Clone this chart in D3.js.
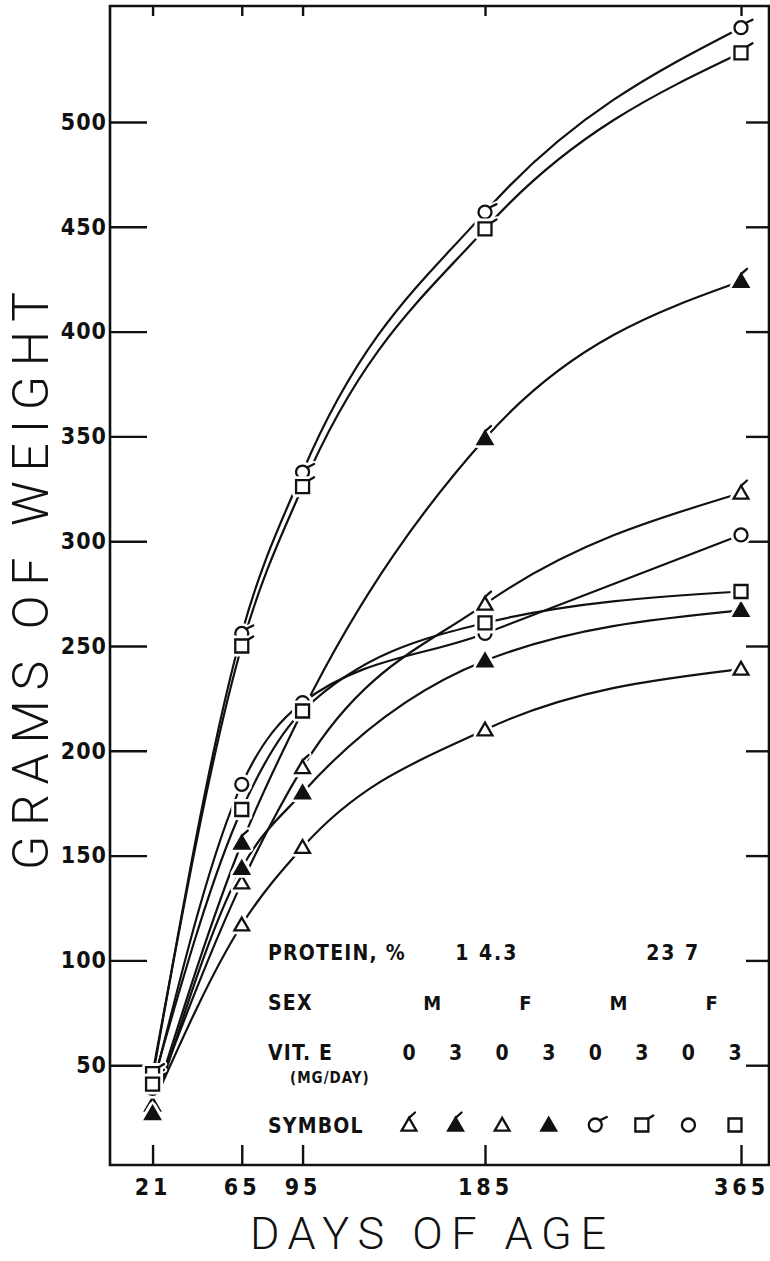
<!DOCTYPE html>
<html>
<head>
<meta charset="utf-8">
<script src="https://cdn.jsdelivr.net/npm/d3@7"></script>
<style>
  html, body { margin: 0; padding: 0; background: #fff; }
  svg { display: block; }
</style>
</head>
<body>
<div id="chart"></div>
<script>
// ---------------- DATA ----------------
const days = [21, 65, 95, 185, 365];
const yTickValues = [50, 100, 150, 200, 250, 300, 350, 400, 450, 500];

// Body weight (g) at each age, one array per group (protein %, sex, vit E)
const p143_M_E0 = [32, 137, 192, 270, 323];
const p143_M_E3 = [30, 156, 219, 349, 424];
const p143_F_E0 = [31, 117, 154, 210, 239];
const p143_F_E3 = [27, 144, 180, 243, 267];
const p237_M_E0 = [44, 256, 333, 457, 545];
const p237_M_E3 = [46, 250, 326, 449, 533];
const p237_F_E0 = [39, 184, 223, 256, 303];
const p237_F_E3 = [41, 172, 219, 261, 276];

const seriesValues = [p143_M_E0, p143_M_E3, p143_F_E0, p143_F_E3,
                      p237_M_E0, p237_M_E3, p237_F_E0, p237_F_E3];
const symbolKinds = ["triFlag", "triFillFlag", "tri", "triFill",
                     "circleFlag", "squareFlag", "circle", "square"];

// Legend table
const proteinLevels = ["1 4.3", "23 7"];
const sexLabels = ["M", "F", "M", "F"];
const vitELabels = ["0", "3", "0", "3", "0", "3", "0", "3"];

// ---------------- LAYOUT ----------------
const W = 770, H = 1261;
const frame = { left: 110, right: 769, top: 6, bottom: 1165 };

const svg = d3.select("#chart").append("svg")
  .attr("width", W).attr("height", H)
  .attr("viewBox", `0 0 ${W} ${H}`);

const x = d3.scaleLinear().domain([0, 185, 365]).range([110, 485, 741]);
const y = d3.scaleLinear().domain([0, 500]).range([1170, 122]);

const ink = "#111";
const tickFont = "'DejaVu Sans Condensed', 'DejaVu Sans', sans-serif";

// ---------------- AXES ----------------
const leftAxis = d3.axisLeft(y).tickValues(yTickValues)
  .tickSizeInner(-37).tickSizeOuter(0).tickPadding(3)
  .tickFormat(d3.format("d"));
const gL = svg.append("g").attr("transform", `translate(${frame.left},0)`).call(leftAxis);

const rightAxis = d3.axisRight(y).tickValues(yTickValues)
  .tickSizeInner(-23).tickSizeOuter(0).tickFormat("");
const gR = svg.append("g").attr("transform", `translate(${frame.right},0)`).call(rightAxis);

const bottomAxis = d3.axisBottom(x).tickValues(days)
  .tickSizeInner(-20).tickSizeOuter(0).tickPadding(14)
  .tickFormat(d3.format("d"));
const gB = svg.append("g").attr("transform", `translate(0,${frame.bottom})`).call(bottomAxis);

const topAxis = d3.axisTop(x).tickValues(days)
  .tickSizeInner(-10).tickSizeOuter(0).tickFormat("");
const gT = svg.append("g").attr("transform", `translate(0,${frame.top})`).call(topAxis);

[gL, gR, gB, gT].forEach(g => {
  g.attr("font-family", tickFont).attr("font-size", 24);
  g.select(".domain").remove();
  g.selectAll(".tick line").attr("stroke", ink).attr("stroke-width", 2.4);
  g.selectAll(".tick text")
    .attr("fill", ink)
    .attr("font-family", tickFont)
    .attr("font-weight", "bold")
    .attr("font-size", 23)
    .attr("letter-spacing", 1);
});
gB.selectAll(".tick text").attr("letter-spacing", 4);

// frame
svg.append("path")
  .attr("d", `M${frame.left},${frame.top}H${frame.right}V${frame.bottom}H${frame.left}Z`)
  .attr("fill", "none").attr("stroke", ink).attr("stroke-width", 2.6);

// axis titles
svg.append("text")
  .attr("transform", `translate(48,581) rotate(-90)`)
  .attr("text-anchor", "middle")
  .attr("font-family", "Roboto, 'DejaVu Sans', sans-serif")
  .attr("font-weight", 300)
  .attr("font-size", 50)
  .attr("textLength", 578).attr("lengthAdjust", "spacing")
  .attr("fill", ink)
  .text("GRAMS OF WEIGHT");

svg.append("text")
  .attr("x", 428).attr("y", 1249)
  .attr("text-anchor", "middle")
  .attr("font-family", "Roboto, 'DejaVu Sans', sans-serif")
  .attr("font-weight", 300)
  .attr("font-size", 45)
  .attr("textLength", 356).attr("lengthAdjust", "spacing")
  .attr("fill", ink)
  .text("DAYS OF AGE");

// ---------------- MARKERS ----------------
function shapePath(kind) {
  if (kind.startsWith("tri")) return "M0,-7.2L7.4,5.6L-7.4,5.6Z";
  if (kind.startsWith("circle")) return "M6.5,0A6.5,6.5 0 1,1 -6.5,0A6.5,6.5 0 1,1 6.5,0Z";
  return "M-6.5,-6.5H6.5V6.5H-6.5Z";
}
function flagPath(kind) {
  if (!kind.endsWith("Flag")) return null;
  if (kind.startsWith("tri")) return "M0,-7.2L6,-12.5";
  if (kind.startsWith("circle")) return "M4.6,-4.6L11.5,-8";
  return "M6.5,-6.5L11.5,-9.5";
}
function drawMarker(g, kind, cx, cy, halo) {
  const m = g.append("g").attr("transform", `translate(${cx},${cy})`);
  const filled = kind.includes("Fill");
  const fp = flagPath(kind);
  if (halo) {
    m.append("path").attr("d", shapePath(kind))
      .attr("fill", "#fff").attr("stroke", "#fff").attr("stroke-width", 8)
      .attr("stroke-linejoin", "round");
    if (fp) m.append("path").attr("d", fp).attr("stroke", "#fff").attr("stroke-width", 6)
      .attr("stroke-linecap", "round");
  }
  m.append("path").attr("d", shapePath(kind))
    .attr("fill", filled ? ink : "#fff")
    .attr("stroke", ink).attr("stroke-width", 2.3)
    .attr("stroke-linejoin", "miter");
  if (fp) m.append("path").attr("d", fp).attr("stroke", ink).attr("stroke-width", 2.3)
    .attr("stroke-linecap", "round").attr("fill", "none");
}

// ---------------- CURVES ----------------
const line = d3.line()
  .x((d, i) => x(days[i]))
  .y(d => y(d))
  .curve(d3.curveMonotoneX);

const gLines = svg.append("g");
seriesValues.forEach(vals => {
  gLines.append("path")
    .attr("d", line(vals))
    .attr("fill", "none")
    .attr("stroke", ink)
    .attr("stroke-width", 2.2);
});

const gMarks = svg.append("g");
seriesValues.forEach((vals, s) => {
  vals.forEach((v, i) => drawMarker(gMarks, symbolKinds[s], x(days[i]), y(v), true));
});

// ---------------- LEGEND TABLE ----------------
const legendFont = "'DejaVu Sans Condensed', 'DejaVu Sans', sans-serif";
const col = d3.scalePoint().domain(d3.range(symbolKinds.length)).range([409, 735]);
const lg = svg.append("g")
  .attr("font-family", legendFont)
  .attr("font-weight", "bold")
  .attr("fill", ink);

function rowLabel(txt, yy) {
  lg.append("text").attr("x", 268).attr("y", yy)
    .attr("font-size", 21).attr("letter-spacing", 1.2).text(txt);
}
rowLabel("PROTEIN, %", 960);
rowLabel("SEX", 1010);
rowLabel("VIT. E", 1060);
lg.append("text").attr("x", 290).attr("y", 1083).attr("font-size", 15)
  .attr("letter-spacing", 1).text("(MG/DAY)");
rowLabel("SYMBOL", 1133);

proteinLevels.forEach((p, i) => {
  const cx = (col(i * 4) + col(i * 4 + 3)) / 2 + 8;
  lg.append("text").attr("x", cx).attr("y", 960).attr("text-anchor", "middle")
    .attr("font-size", 21).attr("letter-spacing", 2).text(p);
});
sexLabels.forEach((s, i) => {
  const cx = (col(i * 2) + col(i * 2 + 1)) / 2;
  lg.append("text").attr("x", cx).attr("y", 1010).attr("text-anchor", "middle")
    .attr("font-size", 20).text(s);
});
vitELabels.forEach((v, i) => {
  lg.append("text").attr("x", col(i)).attr("y", 1060).attr("text-anchor", "middle")
    .attr("font-size", 21).text(v);
});
symbolKinds.forEach((k, i) => drawMarker(lg, k, col(i), 1125, false));
</script>
</body>
</html>
